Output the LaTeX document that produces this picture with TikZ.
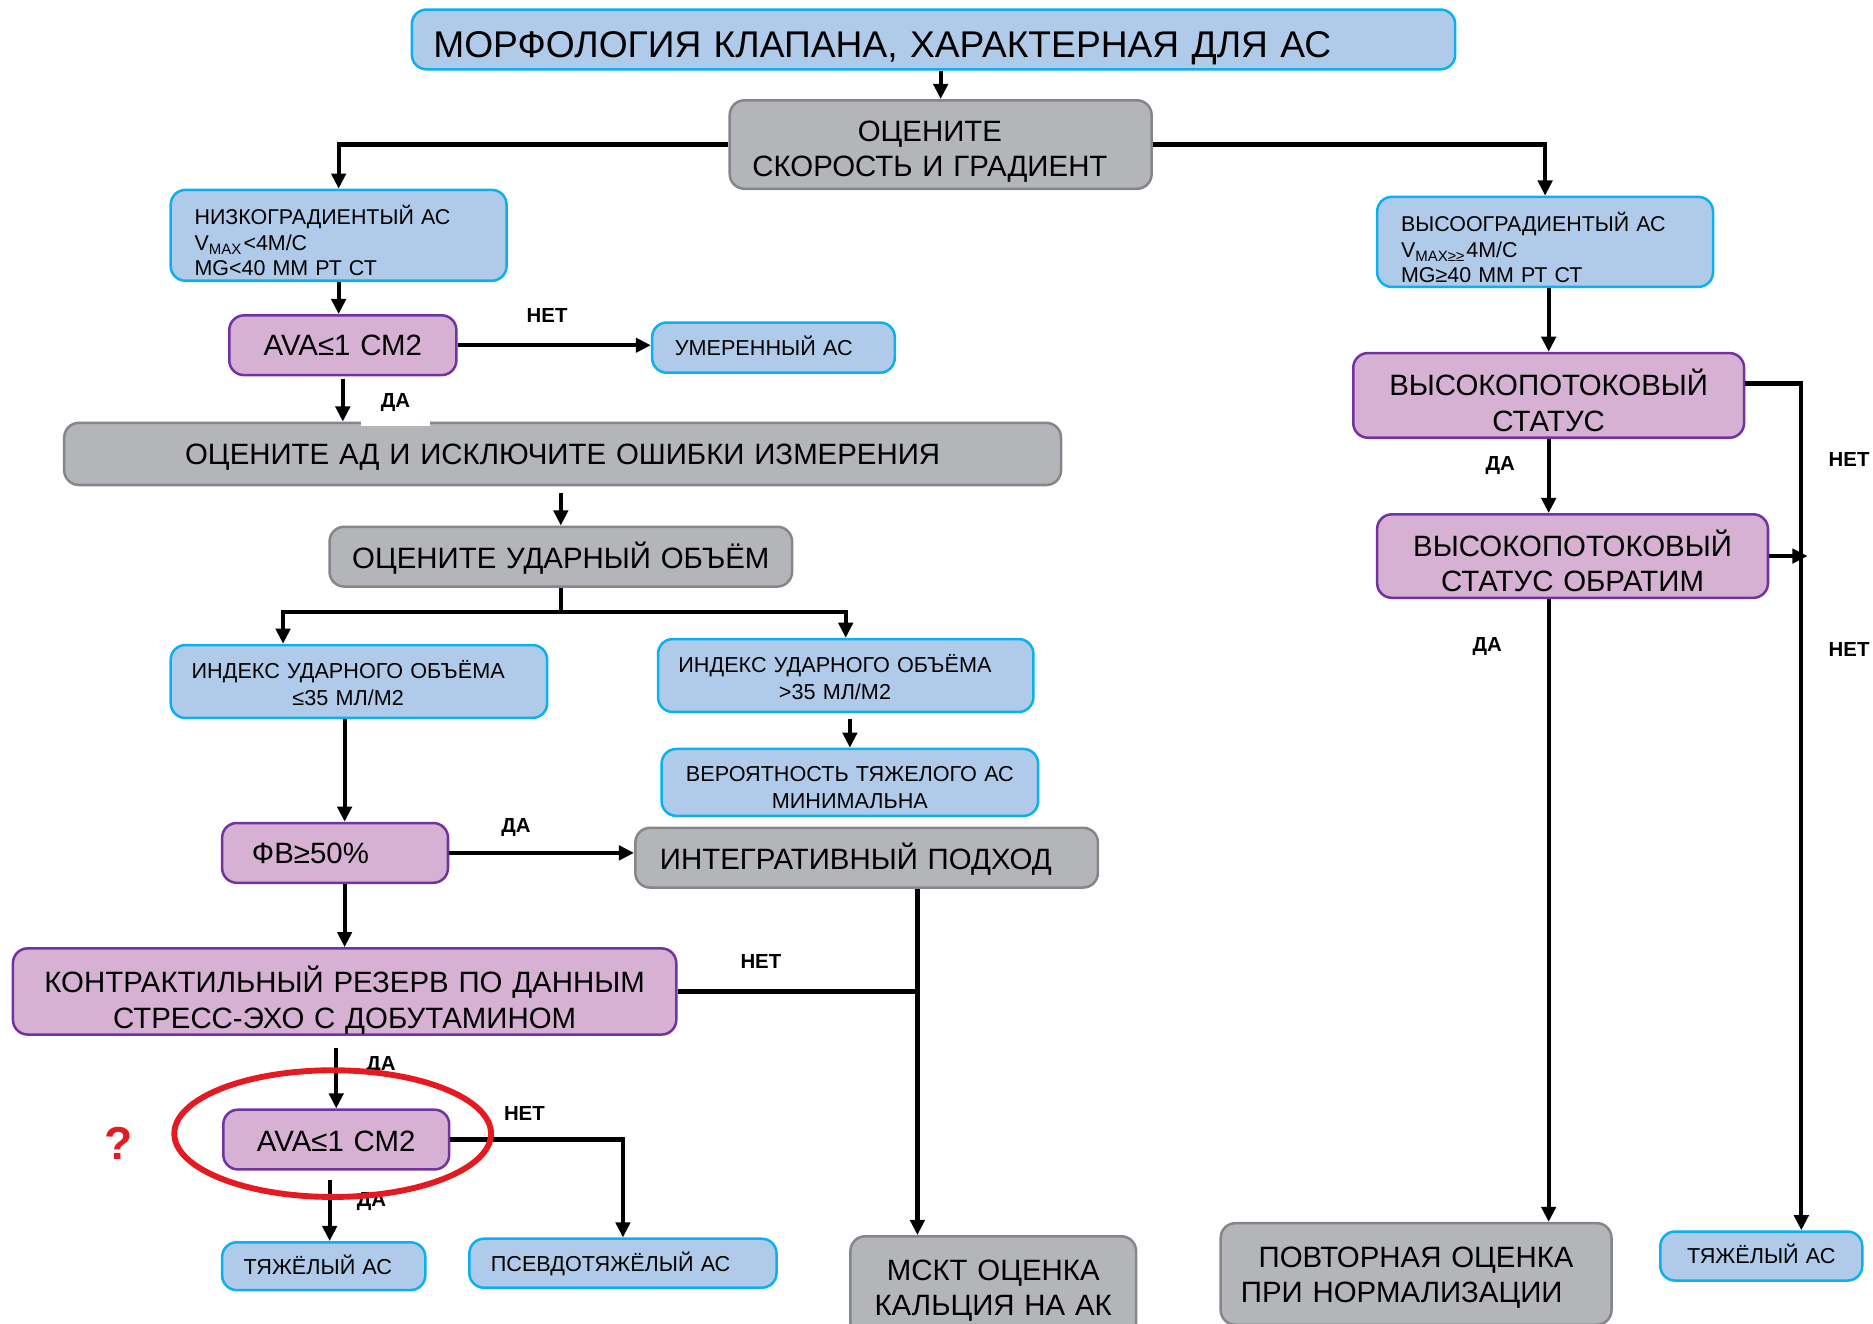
\documentclass[tikz,border=0pt]{standalone}
\usepackage{fontspec}
\setmainfont{Liberation Sans}
\usepackage{tikz}
\usetikzlibrary{shapes.geometric}
\usetikzlibrary{arrows.meta}
\definecolor{bfill}{HTML}{B0CBE9}
\definecolor{bline}{HTML}{0BB0EE}
\definecolor{pfill}{HTML}{D6B1D3}
\definecolor{pline}{HTML}{7232A2}
\definecolor{gfill}{HTML}{B4B5B9}
\definecolor{gline}{HTML}{85868A}
\definecolor{ringred}{HTML}{E5191F}
\newcommand{\nudge}[1][0.18cm]{\hspace*{#1}\mbox{}}
\tikzset{every picture/.style={line width=1pt},
box/.style={rounded corners=3.5pt,line width=0.6pt,inner sep=0pt,align=center,
  execute at begin node={\rule{0pt}{0.95em}},execute at end node={\rule[-0.22em]{0pt}{0.22em}}},
sink/.style={execute at begin node={\rule{0pt}{#1}}},
blu/.style={box,draw=bline,fill=bfill,font=\fontsize{5.15}{6.3}\selectfont},
pur/.style={box,draw=pline,fill=pfill,font=\fontsize{7}{8.4}\selectfont},
gry/.style={box,draw=gline,fill=gfill,font=\fontsize{7}{8.4}\selectfont},
yn/.style={font=\bfseries\fontsize{4.85}{6}\selectfont},
arr/.style={-{Triangle[length=3.6pt,width=3.4pt]}}}

\begin{document}
\begin{tikzpicture}[x=0.01cm,y=-0.01cm]
\useasboundingbox (0,0) rectangle (1568,1108);
% left and middle column
\node (title) at (781.5,33) [blu,sink=1.2em,minimum height=0.5cm,text width=8.37cm,inner xsep=0.18cm,align=left,font=\fontsize{8.85}{10}\selectfont] {МОРФОЛОГИЯ КЛАПАНА, ХАРАКТЕРНАЯ ДЛЯ АС};
\node (s) at (787.5,121) [gry,sink=1.22em,text width=3.53cm,minimum height=0.74cm] {ОЦЕНИТЕ\nudge\\СКОРОСТЬ И ГРАДИЕНТ\nudge};
\node (low) at (283.5,197) [blu,sink=1.6em,minimum height=0.76cm,text width=2.41cm,inner xsep=0.2cm,align=left,font=\fontsize{5.1}{6}\selectfont] {НИЗКОГРАДИЕНТЫЙ АС\\V\textsubscript{MAX}<4М/С\\MG<40 ММ РТ СТ};
\node (a1) at (287,289) [pur,text width=1.9cm,minimum height=0.5cm] {AVA≤1 СМ2};
\node (mod) at (647.5,291) [blu,minimum height=0.42cm,text width=1.65cm,inner xsep=0.19cm,align=left] {УМЕРЕННЫЙ АС};
\node (bp) at (471,380) [gry,text width=8.34cm,minimum height=0.52cm] {ОЦЕНИТЕ АД И ИСКЛЮЧИТЕ ОШИБКИ ИЗМЕРЕНИЯ};
\node (sv) at (469.5,466) [gry,sink=1.02em,text width=3.87cm,minimum height=0.5cm] {ОЦЕНИТЕ УДАРНЫЙ ОБЪЁМ};
\node (svl) at (300.5,570.5) [blu,sink=1.21em,text width=3.15cm,minimum height=0.61cm] {ИНДЕКС УДАРНОГО ОБЪЁМА\nudge\\≤35 МЛ/М2\nudge};
\node (svh) at (708,565.5) [blu,sink=1.21em,text width=3.14cm,minimum height=0.61cm] {ИНДЕКС УДАРНОГО ОБЪЁМА\nudge\\>35 МЛ/М2\nudge};
\node (minp) at (711.5,655) [blu,sink=1.38em,text width=3.15cm,minimum height=0.56cm] {ВЕРОЯТНОСТЬ ТЯЖЕЛОГО АС\\МИНИМАЛЬНА};
\node (ef) at (280.5,714) [pur,minimum height=0.5cm,text width=1.39cm,inner xsep=0.25cm,align=left] {ФВ≥50\%};
\node (integ) at (725.5,718) [gry,sink=1.02em,text width=3.87cm,minimum height=0.5cm] {ИНТЕГРАТИВНЫЙ ПОДХОД\nudge};
\node (contr) at (288.5,830) [pur,sink=1.51em,text width=5.55cm,minimum height=0.68cm] {КОНТРАКТИЛЬНЫЙ РЕЗЕРВ ПО ДАННЫМ\\СТРЕСС-ЭХО С ДОБУТАМИНОМ};
\node (a2) at (281.5,954) [pur,sink=1.02em,text width=1.89cm,minimum height=0.5cm] {AVA≤1 СМ2};
\node (sev1) at (271,1060) [blu,minimum height=0.4cm,text width=1.34cm,inner xsep=0.18cm,align=left] {ТЯЖЁЛЫЙ АС};
\node (pseudo) at (521.5,1057.5) [blu,minimum height=0.41cm,text width=2.21cm,inner xsep=0.18cm,align=left] {ПСЕВДОТЯЖЁЛЫЙ АС};
\node (msct) at (831.5,1077.5) [gry,text width=2.39cm,minimum height=0.85cm] {МСКТ ОЦЕНКА\\КАЛЬЦИЯ НА АК};
% right column
\node (high) at (1293.5,202.5) [blu,sink=1.63em,minimum height=0.75cm,text width=2.41cm,inner xsep=0.2cm,align=left,font=\fontsize{5.1}{6}\selectfont] {ВЫСООГРАДИЕНТЫЙ АС\\V\textsubscript{MAX≥≥}4М/С\\MG≥40 ММ РТ СТ};
\node (hf1) at (1296.5,331) [pur,sink=1.46em,text width=3.27cm,minimum height=0.7cm] {ВЫСОКОПОТОКОВЫЙ\\СТАТУС};
\node (hf2) at (1316.5,465.5) [pur,sink=1.42em,text width=3.27cm,minimum height=0.69cm] {ВЫСОКОПОТОКОВЫЙ\\СТАТУС ОБРАТИМ};
\node (rep) at (1185.5,1066.5) [gry,text width=3.27cm,minimum height=0.85cm] {ПОВТОРНАЯ ОЦЕНКА\\ПРИ НОРМАЛИЗАЦИИ\nudge[0.24cm]};
\node (sev2) at (1474.5,1051.5) [blu,text width=1.69cm,minimum height=0.41cm] {ТЯЖЁЛЫЙ АС};
% connectors
\draw[arr] (title.south -| s) -- (s);
\draw[arr] (s.west) -| (low);
\draw[arr] (s.east) -| (high);
\draw[arr] (low.south) -- (low.south |- a1.north);
\draw[arr] (a1.east) -- (a1.east -| mod.west);
\draw[arr,shorten <=0.02cm] (a1.south) -- (a1.south |- bp.north);
\draw[arr,shorten <=0.06cm] (bp.south -| sv) -- (sv);
\draw (sv.south) -- ++(0,20) coordinate (sp);
\draw[arr] (sp) -| ([xshift=-0.635cm]svl.north);
\draw[arr] (sp) -| (svh);
\draw[arr,shorten <=0.05cm] (minp.north |- svh.south) -- (minp);
\draw[arr] (svl.south -| contr) -- (ef.north -| contr);
\draw[arr] (ef.south -| contr) -- (contr);
\draw[arr] (ef.east) -- (ef.east -| integ.west);
\coordinate (m) at ([xshift=0.425cm]integ.south);
\draw[arr] (m) -- (m |- msct.north);
\draw (contr.east) -- (contr.east -| m);
\draw[arr,shorten <=0.1cm] (contr.south -| a2) -- (a2);
\draw[arr,shorten <=0.08cm] ([xshift=-0.055cm]a2.south) coordinate (d) -- (d |- sev1.north);
\draw[arr] (a2.east) -| (pseudo);
\draw[arr] (high.south -| hf1) -- (hf1);
\draw[arr] (hf1.south) -- (hf1.south |- hf2.north);
\draw[arr] ([yshift=0.1cm]hf1.east) -| ([xshift=0.335cm]sev2.north);
\coordinate (t) at ([xshift=0.32cm]hf2.east);
\draw[arr] (hf2.east) -- (t);
\draw[arr] (hf2.south -| hf1) -- (rep.north -| hf1);
% yes / no
\node (yn0) at (331,337) [yn,fill=white,minimum width=0.58cm,minimum height=0.36cm] {ДА};
\foreach \x/\y/\t [count=\i] in {458/264/НЕТ,432/693/ДА,637/805/НЕТ,319/892/ДА,439/932/НЕТ,311/1006/ДА,1256/390/ДА,1548/385/НЕТ,1548/544/НЕТ,1245/541/ДА} {
\node (yn\i) at (\x,\y) [yn] {\t};
}
\node (ring) at (278.5,949) [ellipse,draw=ringred,line width=1.4pt,minimum width=2.65cm,minimum height=1.06cm] {};
\node (q) at (99,957) [text=ringred,font=\bfseries\fontsize{11}{13}\selectfont] {?};
\end{tikzpicture}
\end{document}
